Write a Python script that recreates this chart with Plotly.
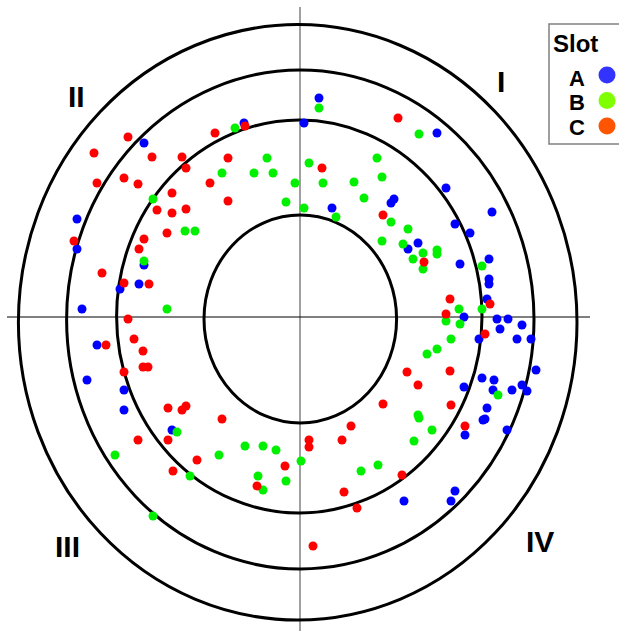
"""
Diagrama polar de posicions per slot (A, B, C) amb anells concèntrics
i quadrants I-IV.
"""

import plotly.graph_objects as go

W, H = 619, 631

# Punts de cada slot (x, y respecte del centre del diagrama)
slot_a_x = [-156, -56, 4, -223, -223, -156, -161, -180, -218, 19, 137, 146, 192, 94,
            91, 32, 155, 170, 118, 108, 189, 160, 189, 189, 187, 164, 197, 208, 200,
            222, 179, 217, 231, 236, 182, 194, 164, 193, 212, 222, 227, 187, 183, 185,
            207, 165, 104, 155, 151, -203, -213, -176, -176, -128]
slot_a_y = [174, 194, 194, 98, 68, 52, 33, 28, 8, 219, 184, 129, 105, 118,
            114, 109, 93, 84, 74, 68, 58, 53, 38, 33, 18, 0, -2, -2, -12,
            -8, -22, -22, -22, -53, -61, -63, -70, -73, -73, -68, -74, -91, -103, -102,
            -113, -118, -184, -174, -184, -28, -63, -73, -93, -113]

slot_b_x = [-65, -33, -78, -46, -27, 9, -5, -147, -14, 4, -115, -105, -156, -133,
            19, 119, 77, 82, 23, 54, 64, 36, 91, 108, 82, 103, 123, 137, 137, 113,
            123, 182, 159, 182, 146, 160, 151, 137, 127, 198, 118, 119, 132, 114, 1,
            61, 78, -123, -185, -55, -37, -24, -81, -110, -42, -14, -37, -147]
slot_b_y = [189, 159, 144, 144, 144, 154, 134, 118, 115, 109, 86, 86, 56, 8,
            209, 183, 159, 140, 134, 135, 119, 100, 95, 88, 76, 73, 64, 67, 63, 58,
            48, 51, 8, 8, -4, -7, -22, -32, -37, -78, -98, -101, -113, -124, -144,
            -154, -148, -115, -138, -129, -129, -133, -138, -159, -159, -164, -173, -199]

slot_c_x = [-172, -206, -148, -203, -176, -162, -118, -114, -85, -55, -72, -90, -128,
            -143, -128, -114, -72, -133, -156, -161, -226, -198, -176, -151, -172, 98,
            22, 83, 124, 150, 190, 146, 185, 107, 150, 118, 83, 151, 165, 51, 9, 9, 42,
            102, 44, 57, 13, -194, -166, -157, -157, -152, -176, -132, -118, -114, -78,
            -162, -132, -103, -15, -127, -43]
slot_c_y = [180, 164, 160, 134, 139, 133, 160, 149, 184, 191, 159, 134, 124,
            107, 104, 108, 116, 84, 78, 68, 76, 44, 34, 33, -2, 199,
            149, 102, 55, 18, 13, 3, -17, -55, -54, -68, -87, -88, -109, -109, -123, -130, -123,
            -158, -175, -191, -229, -28, -22, -34, -50, -50, -55, -91, -93, -89, -102,
            -123, -123, -143, -149, -154, -169]

# Anells: centre (x, y) i semieixos (rx, ry)
anell_cx = [0.3, -0.7, 0.3, -2.3]
anell_cy = [-2, 0.5, -2.5, -5.3]
anell_rx = [96.3, 182.7, 233.7, 279.3]
anell_ry = [104, 196.5, 249.5, 297.7]

quadrants = ["I", "II", "III", "IV"]
slots = ["A", "B", "C"]

colors_punts = ["#0000ff", "#00f000", "#ff0000"]
colors_llegenda = ["#3333ff", "#80ff00", "#ff5500"]


def px(x):
    return x / W


def py(y):
    return 1 - y / H


fig = go.Figure()

for xs, ys, col, nom in zip([slot_a_x, slot_b_x, slot_c_x],
                            [slot_a_y, slot_b_y, slot_c_y],
                            colors_punts, slots):
    fig.add_trace(go.Scatter(
        x=xs, y=ys, mode="markers", name=nom,
        marker=dict(color=col, size=9, symbol="circle", line=dict(width=0)),
        hoverinfo="skip",
    ))

shapes = []
for cx, cy, rx, ry in zip(anell_cx, anell_cy, anell_rx, anell_ry):
    shapes.append(dict(type="circle", xref="x", yref="y",
                       x0=cx - rx, x1=cx + rx, y0=cy - ry, y1=cy + ry,
                       line=dict(color="black", width=3), layer="below"))

# Eixos creuats
shapes.append(dict(type="line", xref="x", yref="paper", x0=0, x1=0,
                   y0=0, y1=py(7), line=dict(color="#808080", width=1.5),
                   layer="below"))
shapes.append(dict(type="line", xref="paper", yref="y", x0=px(7), x1=px(590),
                   y0=0, y1=0, line=dict(color="black", width=1), layer="below"))

# Caixa de la llegenda
shapes.append(dict(type="rect", xref="paper", yref="paper",
                   x0=px(549), x1=px(625), y0=py(144), y1=py(24),
                   line=dict(color="#808080", width=1.5), fillcolor="white"))
for i, col in enumerate(colors_llegenda):
    cyl = 75 + i * 25.5
    shapes.append(dict(type="circle", xref="paper", yref="paper",
                       x0=px(598.5), x1=px(615.5), y0=py(cyl + 8.5), y1=py(cyl - 8.5),
                       fillcolor=col, line=dict(width=0)))

fonts = "Liberation Sans, Arial, sans-serif"
annotations = []
pos_quadrants = [(501, 81), (76, 97), (67, 546), (540, 541)]
for txt, (x, y) in zip(quadrants, pos_quadrants):
    annotations.append(dict(text=f"<b>{txt}</b>", xref="paper", yref="paper",
                            x=px(x), y=py(y), xanchor="center", yanchor="middle",
                            showarrow=False,
                            font=dict(size=30, color="black", family=fonts)))

annotations.append(dict(text="<b>Slot</b>", xref="paper", yref="paper",
                        x=px(551), y=py(43), xanchor="left", yanchor="middle",
                        showarrow=False, font=dict(size=24, color="black", family=fonts)))
for i, s in enumerate(slots):
    annotations.append(dict(text=f"<b>{s}</b>", xref="paper", yref="paper",
                            x=px(577), y=py(78 + i * 24.5), xanchor="center",
                            yanchor="middle", showarrow=False,
                            font=dict(size=22, color="black", family=fonts)))

fig.update_layout(
    width=W, height=H,
    margin=dict(l=0, r=0, t=0, b=0),
    paper_bgcolor="white", plot_bgcolor="white",
    showlegend=False,
    xaxis=dict(range=[-300, 319], visible=False, fixedrange=True),
    yaxis=dict(range=[-314, 317], visible=False, fixedrange=True),
    shapes=shapes,
    annotations=annotations,
)

# Sense marge del <body>, perquè la figura ocupi tota la finestra
fig.write_html("out.html", config={"displayModeBar": False},
               post_script="document.body.style.margin='0';")
